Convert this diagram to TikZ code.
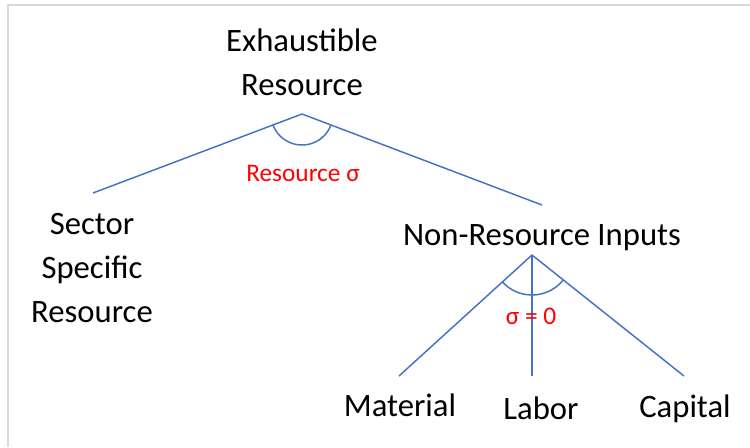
\documentclass[tikz,border=0pt]{standalone}
\usepackage{fontspec}
\setmainfont{Carlito}
\usetikzlibrary{positioning}
\definecolor{linkcolor}{RGB}{68,114,196}
\definecolor{framecolor}{RGB}{217,217,217}

\begin{document}
\begin{tikzpicture}[
    x=0.75pt, y=-0.75pt,
    word/.style={inner sep=0pt, align=center, anchor=base, font=\fontsize{24.5}{33}\selectfont},
    sigmalabel/.style={inner sep=0pt, anchor=base, text=red, font=\fontsize{19}{23}\selectfont},
    branch/.style={draw=linkcolor, line width=1.1pt},
]
    \useasboundingbox (0,0) rectangle (750,447);
    \draw[framecolor, line width=1.5pt] (8,447) -- (8,5) -- (750,5);

    % upper nest
    \node[word] (exh) at (302,95) {Exhaustible\\Resource};
    \node[word] (ssr) at (92,322) {Sector\\Specific\\Resource};
    \node[word] (nri) at (542,245) {Non-Resource Inputs};
    \node[sigmalabel] (rsig) at (303,181) {Resource σ};
    \coordinate (top) at (302,114);
    \coordinate (ssrtip) at (93,193);
    \coordinate (nritip) at (542,205);
    \draw[branch] (ssrtip) -- (top) -- (nritip);
    \draw[branch] (top) ++(20.8:31) arc[start angle=20.8, end angle=159.3, radius=31];

    % lower nest
    \coordinate (mid) at (532,255);
    \foreach \name/\tip/\lx/\ly/\txt in {mat/399/400/416/Material, lab/532/541/419/Labor, cap/684/685/417/Capital} {
        \node[word] (\name) at (\lx,\ly) {\txt};
        \coordinate (\name tip) at (\tip,376);
        \draw[branch] (mid) -- (\name tip);
    }
    \draw[branch] (mid) ++(38.9:40) arc[start angle=38.9, end angle=136.6, radius=40];
    \node[sigmalabel] (zsig) at (531,324) {σ = 0};
\end{tikzpicture}
\end{document}
